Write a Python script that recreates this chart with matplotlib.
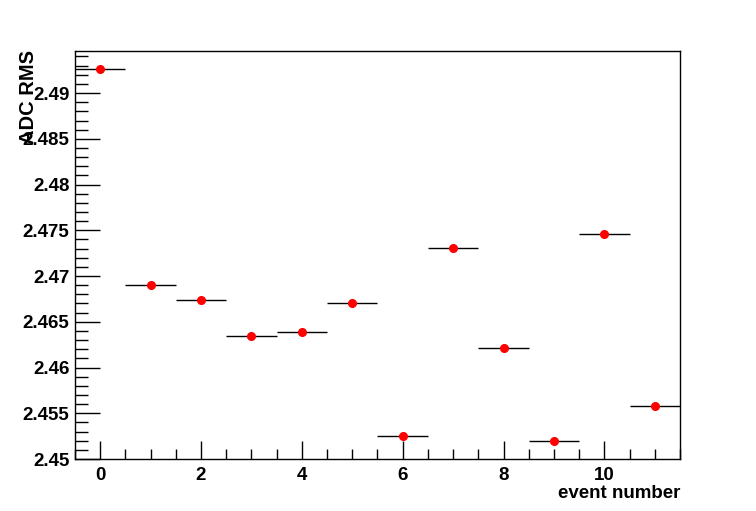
import numpy as np
import matplotlib
matplotlib.use("Agg")
import matplotlib.pyplot as plt
from matplotlib.ticker import MultipleLocator

plt.rcParams['font.family'] = ['Liberation Sans', 'DejaVu Sans']
plt.rcParams['font.weight'] = 'bold'

# data
event = [0, 1, 2, 3, 4, 5, 6, 7, 8, 9, 10, 11]
adc_rms = [2.4926, 2.4690, 2.4674, 2.4635, 2.4639, 2.4670,
           2.4525, 2.4731, 2.4621, 2.4520, 2.4746, 2.4558]
x_err = [0.5] * len(event)
y_err = [0.0004] * len(event)

fig = plt.figure(figsize=(7.56, 5.11), dpi=100)
ax = fig.add_axes([75 / 756, 1 - 459 / 511, 605 / 756, 408 / 511])

ax.errorbar(event, adc_rms, xerr=x_err, yerr=y_err, fmt='o', color='black',
            ecolor='black', elinewidth=1, capsize=0,
            markerfacecolor='red', markeredgecolor='red', markersize=5.5)

ax.set_xlim(-0.5, 11.5)
ax.set_ylim(2.45, 2.4946)

ax.xaxis.set_major_locator(MultipleLocator(2))
ax.xaxis.set_minor_locator(MultipleLocator(0.5))
ax.yaxis.set_major_locator(MultipleLocator(0.005))
ax.yaxis.set_minor_locator(MultipleLocator(0.001))
ax.yaxis.set_major_formatter(plt.FuncFormatter(lambda v, p: ('%.3f' % v).rstrip('0').rstrip('.')))

ax.tick_params(which='both', direction='in', top=False, right=False,
               labelsize=13.5, width=1)
ax.tick_params(axis='x', which='major', length=13, pad=6)
ax.tick_params(axis='x', which='minor', length=7)
ax.tick_params(axis='y', which='major', length=18, pad=4)
ax.tick_params(axis='y', which='minor', length=9)

for s in ax.spines.values():
    s.set_linewidth(1)

fig.text(680 / 756, 1 - 494 / 511, "event number", ha='right', va='center',
         fontsize=13.5, fontweight='bold')
fig.text(29 / 756, 1 - 50 / 511, "ADC RMS", ha='center', va='top', rotation=90,
         fontsize=14.5, fontweight='bold')

fig.savefig("out.png", dpi=100)
